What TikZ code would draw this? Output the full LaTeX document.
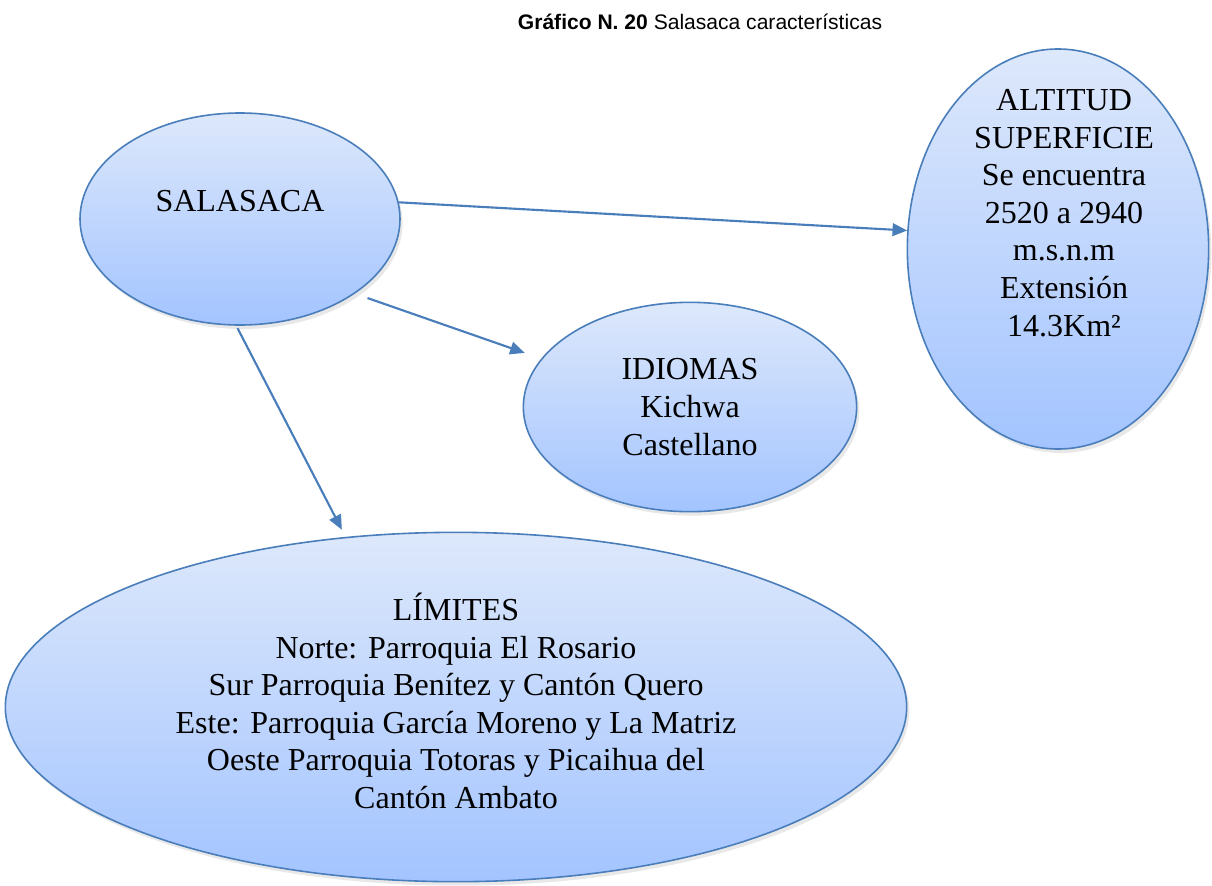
\documentclass[tikz,border=0pt]{standalone}
\usepackage{fontspec}
\setmainfont{Liberation Serif}
\newfontfamily\titlefont{Liberation Sans}
\newfontfamily\bubblefont{Liberation Serif}
\usetikzlibrary{shapes.geometric,arrows.meta,shadows}

\definecolor{edgeblue}{RGB}{74,126,187}
\definecolor{filltop}{RGB}{221,232,251}
\definecolor{fillbot}{RGB}{163,196,255}

\begin{document}
\begin{tikzpicture}
  [x=0.75pt,y=-0.75pt,
   every node/.style={font=\bubblefont\fontsize{24}{28.2}\selectfont,align=center},
   bubble/.style={ellipse,draw=edgeblue,line width=1.2pt,inner sep=0pt,
     top color=filltop,bottom color=fillbot,
     drop shadow={opacity=0.18,shadow xshift=2pt,shadow yshift=-3pt}},
   link/.style={draw=edgeblue,line width=1.6pt,
     -{Triangle[length=11pt,width=9.5pt]}}]
  \useasboundingbox (0,0) rectangle (1212,885);

  \node[font=\titlefont\fontsize{15.8}{18}\selectfont] (title) at (700,22)
    {\textbf{Gráfico N. 20} Salasaca características};

  \node[bubble,minimum width=240pt,minimum height=159pt] (sal) at (240,219) {};
  \node (saltxt) at (240,201) {SALASACA};

  \node[bubble,minimum width=250pt,minimum height=157pt] (idi) at (690,407)
    {IDIOMAS\\Kichwa\\Castellano};

  \node[bubble,minimum width=226pt,minimum height=300pt] (alt) at (1058,249) {};
  \node (alttxt) at (1064,213)
    {ALTITUD\\SUPERFICIE\\Se encuentra\\2520 a 2940\\m.s.n.m\\Extensión\\14.3Km²};

  \node[bubble,minimum width=676pt,minimum height=262pt] (lim) at (456,707) {};
  \node (limtxt) at (456,701)
    {LÍMITES\\Norte: Parroquia El Rosario\\
     Sur Parroquia Benítez y Cantón Quero\\
     Este: Parroquia García Moreno y La Matriz\\
     Oeste Parroquia Totoras y Picaihua del\\
     Cantón Ambato};

  \draw[link] (sal.6) -- (alt.173);
  \draw[link,shorten <=10pt,shorten >=13pt] (sal.-33) -- (idi.162);
  \draw[link,shorten <=2pt,shorten >=6pt] (sal.-92) -- (lim.123);

\end{tikzpicture}
\end{document}
